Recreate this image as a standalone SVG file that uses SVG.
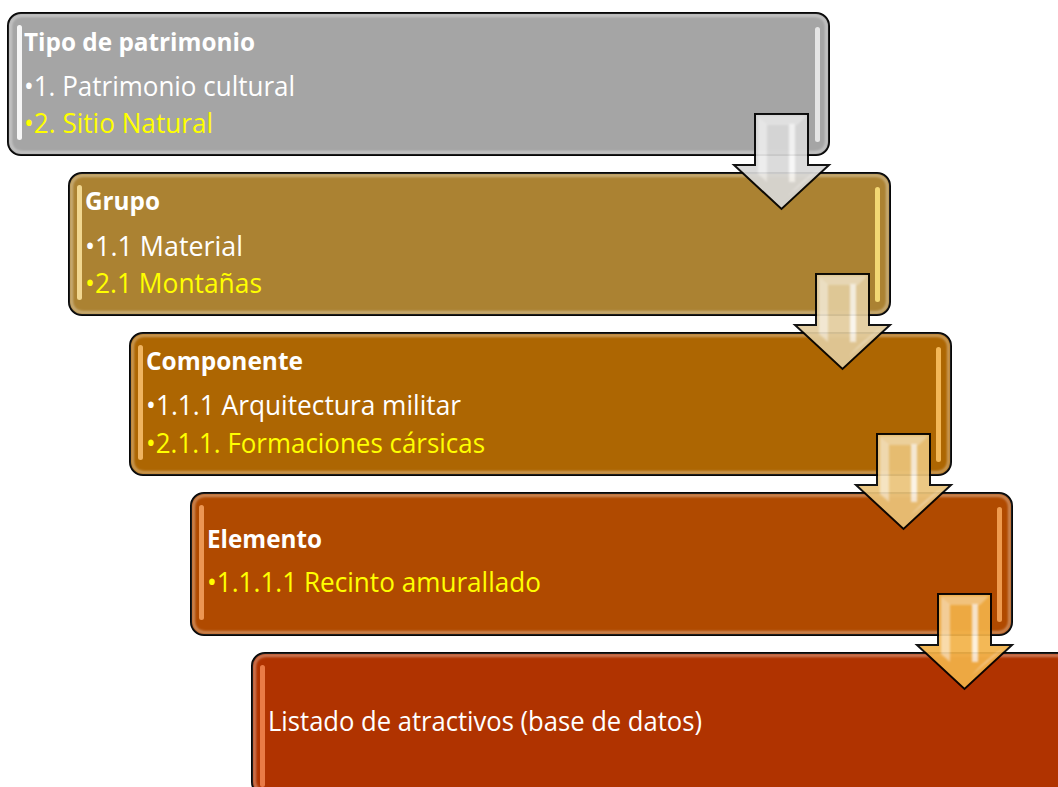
<svg xmlns="http://www.w3.org/2000/svg" width="1058" height="787" viewBox="0 0 1058 787">
<style>
.box{stroke:#000;stroke-width:2}
.glow{fill:none;stroke:#fff;stroke-opacity:.35;stroke-width:3}
.bar{opacity:.9}
.hd{font-family:"Open Sans","Noto Sans","Liberation Sans",sans-serif;font-weight:bold;font-size:25.5px;fill:#fff}
.tx{font-family:"Open Sans","Noto Sans","Liberation Sans",sans-serif;font-size:28px}
.w{fill:#fff}
.y{fill:#ffff00}
.arr{stroke:#000;stroke-width:2;stroke-linejoin:miter}
.hl{fill:#fff}
</style>
<defs>
<filter id="soft" x="-5%" y="-5%" width="110%" height="110%"><feGaussianBlur stdDeviation="1.3"/></filter>
<filter id="blur1" x="-20%" y="-20%" width="140%" height="140%"><feGaussianBlur stdDeviation="1"/></filter>
<path id="arrowShape" d="M755,114 H808 V165 H829 L781.5,209 L734,165 H755 Z"/>
<g id="arrowHl" filter="url(#blur1)">
<polygon class="hl" opacity=".35" points="757,116 806,116 797,125 766,125"/>
<polygon class="hl" opacity=".5" points="758,117 767,125 767,182 758,174"/>
<rect class="hl" opacity=".8" x="789" y="124" width="6" height="58"/>
<path class="hl" opacity=".6" d="M788,196 Q802,180 821,168 L797,188 Z"/>
</g>
</defs>

<g id="n1" transform="translate(8,13)">
<rect class="box" width="821" height="142" rx="13" fill="#a5a5a5"/>
<rect class="glow" x="2.5" y="2.5" width="816" height="137" rx="11" filter="url(#soft)"/>
<rect class="bar" x="9" y="12" width="5" height="115" rx="2.5" fill="#ffffff"/>
<rect class="bar" x="807" y="14" width="5" height="115" rx="2.5" fill="#ececec"/>
<text class="hd" x="16" y="38" textLength="231" lengthAdjust="spacingAndGlyphs">Tipo de patrimonio</text>
<text class="tx w" x="16" y="83" textLength="271" lengthAdjust="spacingAndGlyphs">•1. Patrimonio cultural</text>
<text class="tx y" x="16" y="120" textLength="189" lengthAdjust="spacingAndGlyphs">•2. Sitio Natural</text>
</g>

<g id="n2" transform="translate(69,173)">
<rect class="box" width="821" height="142" rx="13" fill="#ab8232"/>
<rect class="glow" x="2.5" y="2.5" width="816" height="137" rx="11" filter="url(#soft)"/>
<rect class="bar" x="8" y="12" width="5" height="115" rx="2.5" fill="#f8e09a"/>
<rect class="bar" x="806" y="14" width="5" height="115" rx="2.5" fill="#fbe07a"/>
<text class="hd" x="16" y="37" textLength="75" lengthAdjust="spacingAndGlyphs">Grupo</text>
<text class="tx w" x="16" y="83" textLength="158" lengthAdjust="spacingAndGlyphs">•1.1 Material</text>
<text class="tx y" x="16" y="120" textLength="177" lengthAdjust="spacingAndGlyphs">•2.1 Montañas</text>
</g>

<g id="n3" transform="translate(130,333)">
<rect class="box" width="821" height="142" rx="13" fill="#ad6602"/>
<rect class="glow" x="2.5" y="2.5" width="816" height="137" rx="11" filter="url(#soft)"/>
<rect class="bar" x="8" y="12" width="5" height="115" rx="2.5" fill="#f7bd6a"/>
<rect class="bar" x="806" y="14" width="5" height="115" rx="2.5" fill="#fbc060"/>
<text class="hd" x="16" y="37" textLength="157" lengthAdjust="spacingAndGlyphs">Componente</text>
<text class="tx w" x="16" y="82" textLength="315" lengthAdjust="spacingAndGlyphs">•1.1.1 Arquitectura militar</text>
<text class="tx y" x="16" y="120" textLength="339" lengthAdjust="spacingAndGlyphs">•2.1.1. Formaciones cársicas</text>
</g>

<g id="n4" transform="translate(191,493)">
<rect class="box" width="821" height="142" rx="13" fill="#b04a00"/>
<rect class="glow" x="2.5" y="2.5" width="816" height="137" rx="11" filter="url(#soft)"/>
<rect class="bar" x="8" y="12" width="5" height="115" rx="2.5" fill="#f39e5c"/>
<rect class="bar" x="806" y="14" width="5" height="115" rx="2.5" fill="#f5a458"/>
<text class="hd" x="16" y="55" textLength="115" lengthAdjust="spacingAndGlyphs">Elemento</text>
<text class="tx y" x="16" y="99" textLength="334" lengthAdjust="spacingAndGlyphs">•1.1.1.1 Recinto amurallado</text>
</g>

<g id="n5" transform="translate(252,653)">
<rect class="box" width="821" height="142" rx="13" fill="#b03300"/>
<rect class="glow" x="2.5" y="2.5" width="816" height="137" rx="11" filter="url(#soft)"/>
<rect class="bar" x="8" y="12" width="5" height="122" rx="2.5" fill="#f0834e"/>
<text class="tx w" x="16" y="78" textLength="434" lengthAdjust="spacingAndGlyphs">Listado de atractivos (base de datos)</text>
</g>

<g id="connectors">
<g id="a1" opacity="0.92">
<use href="#arrowShape" class="arr" fill="#d9d9d9"/>
<use href="#arrowHl"/>
</g>
<g id="a2" opacity="0.92" transform="translate(61,160)">
<use href="#arrowShape" class="arr" fill="#e3cd9e"/>
<use href="#arrowHl"/>
</g>
<g id="a3" opacity="0.92" transform="translate(122,320)">
<use href="#arrowShape" class="arr" fill="#ebc47a"/>
<use href="#arrowHl"/>
</g>
<g id="a4" opacity="0.92" transform="translate(183,480)">
<use href="#arrowShape" class="arr" fill="#f3b248"/>
<use href="#arrowHl"/>
</g>
</g>
</svg>
